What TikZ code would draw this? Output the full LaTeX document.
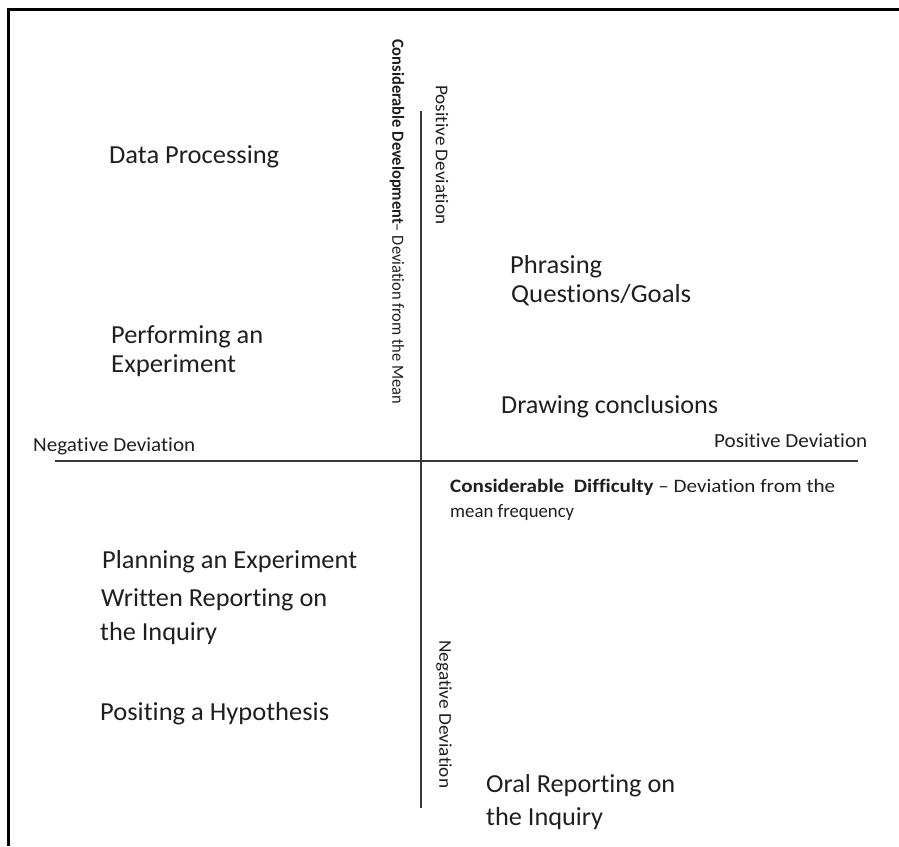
\documentclass[tikz,border=0pt]{standalone}
\usepackage{fontspec}
\setmainfont{Carlito}[Ligatures=NoCommon]
\usepackage{graphicx}
\newcommand{\fitw}[2]{\resizebox{#1}{\height}{#2}}
\begin{document}
\begin{tikzpicture}[x=1pt,y=-1pt,
  txt/.style={inner sep=0pt, anchor=base west, text=black!88},
  big/.style={txt, font=\fontsize{26}{30}\selectfont},
  small/.style={txt, font=\fontsize{20}{24}\selectfont},
  vert/.style={inner sep=0pt, anchor=west, rotate=-90, text=black!88, font=\fontsize{18}{22}\selectfont},
  axisline/.style={line width=1.6pt, draw=black!78},
  frameline/.style={line width=3pt, draw=black}]
\useasboundingbox (0,0) rectangle (899,846);
% frame
\coordinate (ftl) at (8.8,9);
\coordinate (ftr) at (899,9);
\coordinate (fbl) at (8.8,846);
\draw[frameline] (fbl) -- (ftl) -- (ftr);
% axes
\coordinate (xl) at (55,461);
\coordinate (xr) at (858,461);
\coordinate (yt) at (421,111);
\coordinate (yb) at (421,808);
\draw[axisline] (xl) -- (xr);
\draw[axisline] (yt) -- (yb);
% axis labels
\node[vert, font=\fontsize{17}{20}\selectfont] (cdev) at (397,39) {\fitw{365pt}{\textbf{Considerable Development}– Deviation from the Mean}};
\node[vert] (ypos) at (442,85) {\fitw{139pt}{Positive Deviation}};
\node[vert] (yneg) at (444,640) {\fitw{148pt}{Negative Deviation}};
\node[small] (xneg) at (33,451) {\fitw{162pt}{Negative Deviation}};
\node[small] (xpos) at (714,447) {\fitw{153pt}{Positive Deviation}};
\node[small, font=\fontsize{19}{22}\selectfont] (cdif1) at (450,492) {\fitw{385pt}{\textbf{Considerable\ \ Difficulty} – Deviation from the}};
\node[small, font=\fontsize{19}{22}\selectfont] (cdif2) at (450,517) {\fitw{124pt}{mean frequency}};
% items
\node[big] (dp) at (109,163) {\fitw{170pt}{Data Processing}};
\node[big] (ph1) at (510,273) {\fitw{92pt}{Phrasing}};
\node[big] (ph2) at (511,302) {\fitw{180pt}{Questions/Goals}};
\node[big] (pe1) at (111,343) {\fitw{152pt}{Performing an}};
\node[big] (pe2) at (111,372) {\fitw{125pt}{Experiment}};
\node[big] (dc) at (501,413) {\fitw{217pt}{Drawing conclusions}};
\node[big] (pl) at (102,568) {\fitw{255pt}{Planning an Experiment}};
\node[big] (wr1) at (101,606) {\fitw{226pt}{Written Reporting on}};
\node[big] (wr2) at (100,640) {\fitw{117pt}{the Inquiry}};
\node[big] (ph) at (100,720) {\fitw{229pt}{Positing a Hypothesis}};
\node[big] (or1) at (486,792) {\fitw{189pt}{Oral Reporting on}};
\node[big] (or2) at (486,825) {\fitw{117pt}{the Inquiry}};
\end{tikzpicture}
\end{document}
